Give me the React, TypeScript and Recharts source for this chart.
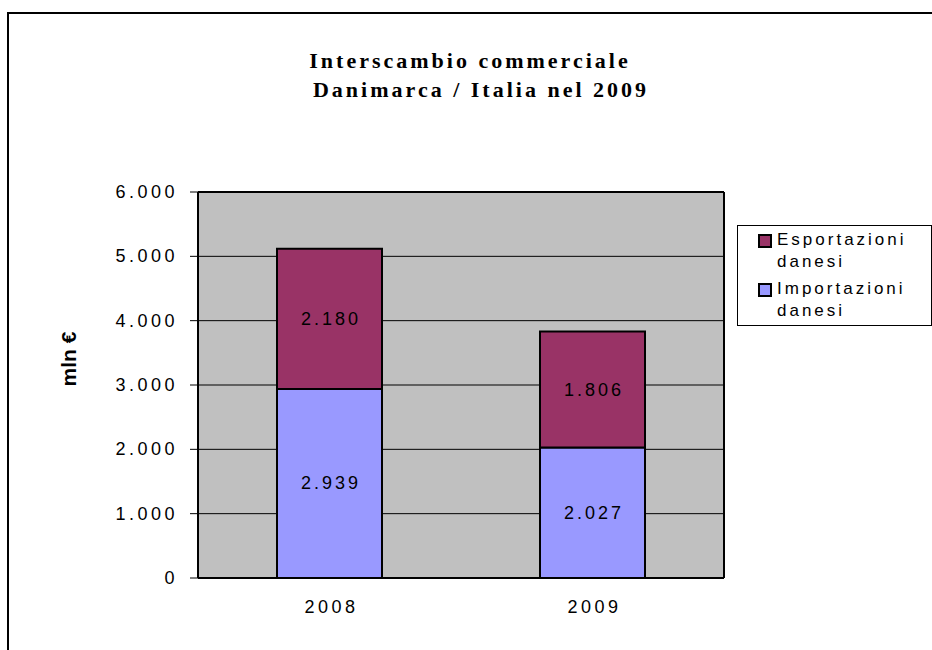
import React from "react";
import { BarChart, Bar, XAxis, YAxis, CartesianGrid, LabelList, Legend, Label } from "recharts";

const years = ["2008", "2009"];
const importazioni = [2939, 2027];
const esportazioni = [2180, 1806];
const yTicks = [0, 1000, 2000, 3000, 4000, 5000, 6000];
const seriesNames = { imp: "Importazioni danesi", esp: "Esportazioni danesi" };
const titleLines = ["Interscambio commerciale", "Danimarca / Italia nel 2009"];

const colors = { imp: "#9999FF", esp: "#993366", plot: "#C0C0C0" };

const data = years.map((year, i) => ({ year, imp: importazioni[i], esp: esportazioni[i] }));

// 2939 -> "2.939"
const it = (v: number) => String(v).replace(/\B(?=(\d{3})+(?!\d))/g, ".");

const sans = "'Liberation Sans', Arial, sans-serif";

const YTick = ({ x, y, payload }: any) => (
  <text x={x} y={y} dy={6} textAnchor="end" fill="#000" fontSize={18} fontFamily={sans} style={{ letterSpacing: 3.5 }}>
    {it(payload.value)}
  </text>
);

const XTick = ({ x, y, payload }: any) => (
  <text x={x + 2} y={y} dy={13} textAnchor="middle" fill="#000" fontSize={18} fontFamily={sans} style={{ letterSpacing: 3.5 }}>
    {payload.value}
  </text>
);

const SegLabel = (p: any) => (
  <text
    x={p.x + p.width / 2 + 1.5}
    y={p.y + p.height / 2}
    dy={6}
    textAnchor="middle"
    fill="#000"
    fontSize={18}
    fontFamily={sans}
    style={{ letterSpacing: 3 }}
  >
    {it(p.value)}
  </text>
);

const LegendBox = ({ payload }: any) => {
  // exports on top, like the original
  const items = [...(payload || [])].sort((a: any, b: any) => (a.dataKey === "esp" ? -1 : b.dataKey === "esp" ? 1 : 0));
  return (
    <div
      style={{
        border: "1px solid #000",
        boxSizing: "border-box",
        width: 195,
        height: 101,
        padding: "3px 4px 4px 20px",
        background: "#fff",
        fontFamily: sans,
        fontSize: 17,
        lineHeight: "22px",
        letterSpacing: 3,
        color: "#000",
      }}
    >
      {items.map((it: any) => (
        <div key={it.value} style={{ display: "flex", alignItems: "flex-start", marginBottom: 5 }}>
          <span
            style={{
              width: 10,
              height: 10,
              border: "2px solid #000",
              background: it.color,
              marginTop: 5,
              marginRight: 5,
              flex: "none",
            }}
          />
          <span style={{ width: 150 }}>{it.value}</span>
        </div>
      ))}
    </div>
  );
};

export default function App() {
  return (
    <div style={{ position: "absolute", left: 0, top: 0, width: 932, height: 650, background: "#fff", overflow: "hidden" }}>
      <div style={{ position: "absolute", left: 7, top: 12, width: 960, height: 700, border: "2px solid #000" }} />
      <div
        style={{
          position: "absolute",
          left: 0,
          top: 46,
          width: 940,
          fontFamily: "'Liberation Serif', 'Times New Roman', serif",
          fontWeight: 700,
          fontSize: 22,
          lineHeight: "29px",
          letterSpacing: 3,
          color: "#000",
          textAlign: "center",
        }}
      >
        <div>{titleLines[0]}</div>
        <div style={{ paddingLeft: 22 }}>{titleLines[1]}</div>
      </div>
      <div style={{ position: "absolute", left: 0, top: 0 }}>
        <BarChart
          width={932}
          height={650}
          data={data}
          barSize={105}
          margin={{ top: 191, right: 207, bottom: 32, left: 78 }}
        >
          <CartesianGrid vertical={false} stroke="#000" strokeWidth={1} fill={colors.plot} fillOpacity={1} />
          <XAxis
            xAxisId="edge"
            type="number"
            domain={[0, 2]}
            ticks={[0, 1, 2]}
            tick={false}
            tickSize={7}
            tickLine={{ stroke: "#000" }}
            axisLine={false}
            height={1}
          />
          <XAxis
            dataKey="year"
            tick={<XTick />}
            tickLine={false}
            tickSize={6}
            tickMargin={16}
            axisLine={{ stroke: "#000", strokeWidth: 2 }}
            height={39}
          />
          <XAxis
            xAxisId="top"
            dataKey="year"
            orientation="top"
            tick={false}
            tickLine={false}
            axisLine={{ stroke: "#000", strokeWidth: 2 }}
            height={1}
          />
          <YAxis
            domain={[0, 6000]}
            ticks={yTicks}
            tick={<YTick />}
            tickSize={8}
            tickMargin={12}
            tickLine={{ stroke: "#000" }}
            axisLine={{ stroke: "#000", strokeWidth: 2 }}
            width={120}
          >
            <Label
              content={() => (
                <text
                  x={68}
                  y={359}
                  transform="rotate(-90 68 359)"
                  textAnchor="middle"
                  dominantBaseline="central"
                  fontFamily={sans}
                  fontWeight={700}
                  fontSize={21}
                  fill="#000"
                >
                  mln €
                </text>
              )}
            />
          </YAxis>
          <YAxis
            yAxisId="frame"
            orientation="right"
            domain={[0, 6000]}
            tick={false}
            tickLine={false}
            axisLine={{ stroke: "#000", strokeWidth: 2 }}
            width={1}
          />
          <Legend
            layout="horizontal"
            verticalAlign="middle"
            align="center"
            content={<LegendBox />}
            wrapperStyle={{ left: 737, top: 225, width: 195, height: 101 }}
          />
          <Bar dataKey="imp" name={seriesNames.imp} stackId="a" fill={colors.imp} stroke="#000" strokeWidth={2} isAnimationActive={false}>
            <LabelList dataKey="imp" content={<SegLabel />} />
          </Bar>
          <Bar dataKey="esp" name={seriesNames.esp} stackId="a" fill={colors.esp} stroke="#000" strokeWidth={2} isAnimationActive={false}>
            <LabelList dataKey="esp" content={<SegLabel />} />
          </Bar>
        </BarChart>
      </div>
    </div>
  );
}
